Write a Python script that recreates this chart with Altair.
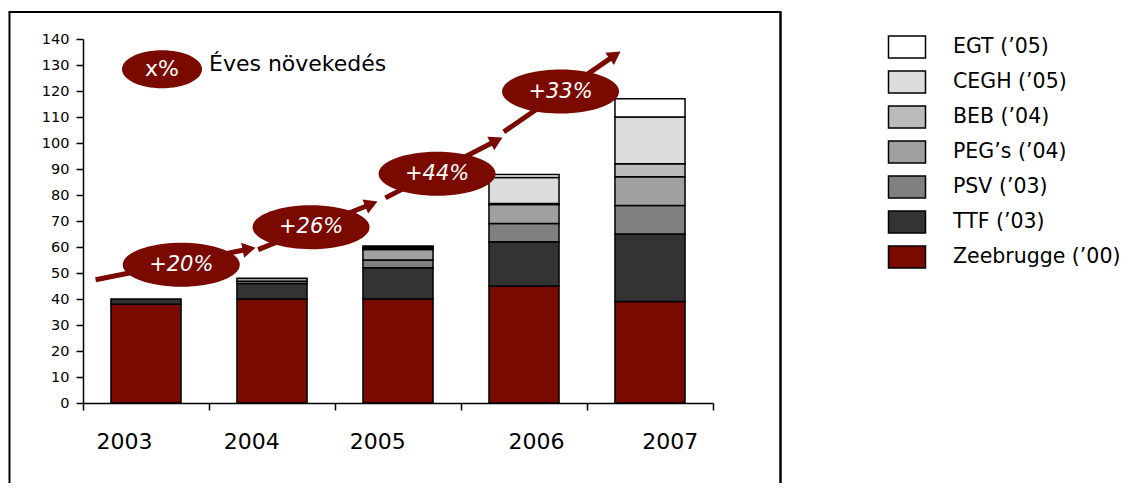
import math
import altair as alt
import pandas as pd

# ---------------- data ----------------
years = ["2003", "2004", "2005", "2006", "2007"]
series = ["Zeebrugge (’00)", "TTF (’03)", "PSV (’03)", "PEG’s (’04)",
          "BEB (’04)", "CEGH (’05)", "EGT (’05)"]
zeebrugge = [38, 40, 40, 45, 39]
ttf = [2, 6, 12, 17, 26]
psv = [0, 0.8, 3, 7, 11]
pegs = [0, 1.2, 4, 7.3, 11]
beb = [0, 0, 0.6, 0.4, 5]
cegh = [0, 0, 0.3, 10, 18]
egt = [0, 0, 0.5, 1.2, 7]
colors = ["#7a0900", "#333333", "#808080", "#a0a0a0", "#bbbbbb", "#dddddd", "#ffffff"]

# growth annotation (data space: x in year slots 0..5, y in value units)
growth_labels = ["+20%", "+26%", "+44%", "+33%"]
growth_x = [0.78, 1.81, 2.81, 3.79]
growth_y = [53.2, 67.6, 88.2, 119.8]
seg_x0 = [0.10, 1.39, 2.40, 3.34]
seg_y0 = [47.4, 59.0, 78.9, 104.3]
seg_x1 = [1.365, 2.333, 3.325, 4.262]
seg_y1 = [59.7, 77.4, 102.0, 135.1]
year_label_x = [0.33, 1.34, 2.34, 3.60, 4.66]
legend_note = "Éves növekedés"
legend_badge = "x%"

# ---------------- layout constants ----------------
W, H = 630, 364
XMAX, YMAX = 5, 140
PX, PY = W / XMAX, H / YMAX
RED = "#7a0900"
FONT = "DejaVu Sans"
HALF = 0.278

# ---------------- tables ----------------
vals = [zeebrugge, ttf, psv, pegs, beb, cegh, egt]
rows = []
for i, yr in enumerate(years):
    base = 0.0
    for s, v in zip(series, vals):
        if v[i] > 0:
            rows.append({"year": yr, "series": s, "x0": i + 0.5 - HALF,
                         "x1": i + 0.5 + HALF, "y0": base, "y1": base + v[i]})
            base += v[i]
bars_df = pd.DataFrame(rows)

seg_rows, head_rows = [], []
for a, b, c, d in zip(seg_x0, seg_y0, seg_x1, seg_y1):
    dx, dy = (c - a) * PX, -(d - b) * PY
    L = math.hypot(dx, dy)
    ang = math.degrees(math.atan2(dy, dx)) % 360
    back = 6.0
    cx = c - back * dx / L / PX
    cy = d + back * dy / L / PY
    seg_rows.append({"x": a, "y": b, "x2": cx, "y2": cy})
    head_rows.append({"x": cx, "y": cy, "ang": ang})
seg_df = pd.DataFrame(seg_rows)
head_df = pd.DataFrame(head_rows)
ell_df = pd.DataFrame({"x": growth_x, "y": growth_y, "t": growth_labels})
yl_df = pd.DataFrame({"x": year_label_x, "t": years})
one = pd.DataFrame({"a": [0]})


def ellipse(ry):
    k = 0.5523
    return (f"M-1,0C-1,{-k*ry:.4f},{-k:.4f},{-ry:.4f},0,{-ry:.4f}"
            f"C{k:.4f},{-ry:.4f},1,{-k*ry:.4f},1,0"
            f"C1,{k*ry:.4f},{k:.4f},{ry:.4f},0,{ry:.4f}"
            f"C{-k:.4f},{ry:.4f},-1,{k*ry:.4f},-1,0Z")


rect_path = "M-1.682,-1L1.682,-1L1.682,1L-1.682,1Z"

xs = alt.Scale(domain=[0, XMAX], nice=False, zero=False)
ys = alt.Scale(domain=[0, YMAX], nice=False, zero=False)
xaxis = alt.Axis(values=list(range(XMAX + 1)), labels=False, grid=False,
                 tickSize=7, tickWidth=1.5, tickColor="black",
                 domainColor="black", domainWidth=1.5, title=None)
yaxis = alt.Axis(values=list(range(0, YMAX + 1, 10)), grid=False,
                 tickSize=7, tickWidth=1.5, tickColor="black",
                 domainColor="black", domainWidth=1.5, title=None,
                 labelFont=FONT, labelFontSize=14.5, labelColor="black",
                 labelPadding=7, labelOverlap=False)


def X(f):
    return alt.X(f, scale=xs, axis=xaxis, title=None)


def Y(f):
    return alt.Y(f, scale=ys, axis=yaxis, title=None)


bars = alt.Chart(bars_df).mark_rect(stroke="black", strokeWidth=1.5).encode(
    x=X("x0:Q"), x2="x1:Q", y=Y("y0:Q"), y2="y1:Q",
    color=alt.Color("series:N",
                    scale=alt.Scale(domain=series[::-1], range=colors[::-1]),
                    legend=alt.Legend(title=None, orient="none", legendX=812,
                                      legendY=-4, symbolType=rect_path,
                                      symbolSize=484, symbolStrokeColor="black",
                                      symbolStrokeWidth=1.5, symbolOpacity=1,
                                      labelFont=FONT, labelFontSize=20.5,
                                      labelColor="black", labelOffset=34,
                                      rowPadding=7, padding=0, labelLimit=400)),
)

segs = alt.Chart(seg_df).mark_rule(color=RED, strokeWidth=5, strokeCap="butt").encode(
    x=X("x:Q"), y=Y("y:Q"), x2="x2:Q", y2="y2:Q")

heads = alt.Chart(head_df).mark_point(shape="triangle-right", filled=True,
                                      color=RED, opacity=1, size=230).encode(
    x=X("x:Q"), y=Y("y:Q"), angle=alt.Angle("ang:Q", scale=None))

ells = alt.Chart(ell_df).mark_point(shape=ellipse(0.376), filled=True, color=RED,
                                    opacity=1, size=117 ** 2).encode(
    x=X("x:Q"), y=Y("y:Q"))

ell_txt = alt.Chart(ell_df).mark_text(font=FONT, fontSize=21, fontStyle="italic",
                                      color="white", align="center",
                                      baseline="middle").encode(
    x=X("x:Q"), y=Y("y:Q"), text="t:N")

badge_df = pd.DataFrame({"x": [0.627], "y": [128.4], "t": [legend_badge]})
badge = alt.Chart(badge_df).mark_point(shape=ellipse(0.475), filled=True, color=RED,
                                       opacity=1, size=80 ** 2).encode(
    x=X("x:Q"), y=Y("y:Q"))
badge_txt = alt.Chart(badge_df).mark_text(font=FONT, fontSize=22, color="white",
                                          align="center", baseline="middle").encode(
    x=X("x:Q"), y=Y("y:Q"), text="t:N")
note_df = pd.DataFrame({"x": [1.0], "y": [127.6], "t": [legend_note]})
note = alt.Chart(note_df).mark_text(font=FONT, fontSize=22, color="black",
                                    align="left", baseline="alphabetic").encode(
    x=X("x:Q"), y=Y("y:Q"), text="t:N")

ylabels = alt.Chart(yl_df).mark_text(font=FONT, fontSize=22, color="black",
                                     align="center", baseline="alphabetic").encode(
    x=X("x:Q"), y=alt.value(410), text="t:N")

frame_l = alt.Chart(one).mark_rule(color="black", strokeWidth=2).encode(
    x=alt.value(-73.5), y=alt.value(-27), y2=alt.value(460))
frame_r = alt.Chart(one).mark_rule(color="black", strokeWidth=2.5).encode(
    x=alt.value(697.5), y=alt.value(-27), y2=alt.value(460))
frame_t = alt.Chart(one).mark_rule(color="black", strokeWidth=2).encode(
    x=alt.value(-74.5), x2=alt.value(698.5), y=alt.value(-27))

chart = alt.layer(
    bars, frame_l, frame_r, frame_t, segs, heads, ells, ell_txt,
    badge, badge_txt, note, ylabels
).properties(
    width=W, height=H,
    background="white",
    autosize=alt.AutoSizeParams(type="none"),
    padding={"left": 75, "top": 31, "right": 420, "bottom": 80},
).configure_view(stroke="transparent", strokeWidth=0).configure_axis(grid=False)

chart.save("out.html", embed_options={"renderer": "svg", "actions": False})
